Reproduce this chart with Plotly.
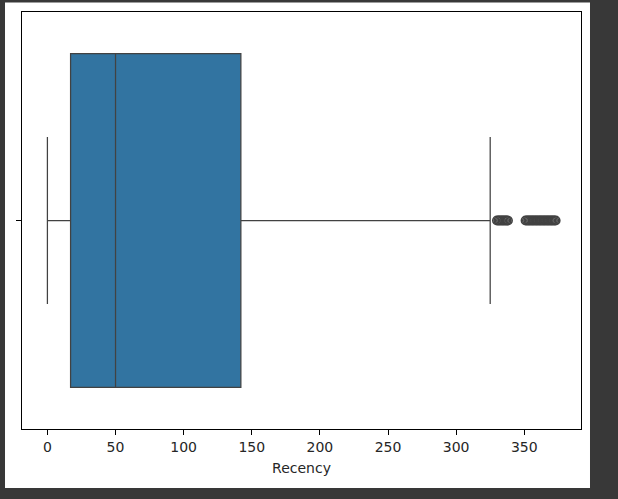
import plotly.graph_objects as go

# Box statistics for Recency
category = [0]
q1 = [17]
median = [50]
q3 = [142]
lower_fence = [0]
upper_fence = [325]

# Outliers beyond the upper whisker
outliers = [330, 331, 332, 333, 334, 335, 336, 337, 338,
            351, 352, 353, 354, 355, 356, 357, 358, 359, 360, 361,
            362, 363, 364, 365, 366, 367, 368, 369, 370, 371, 372, 373]

x_ticks = [0, 50, 100, 150, 200, 250, 300, 350]
x_label = "Recency"

line_col = "#424242"
fig = go.Figure()
fig.add_trace(go.Box(
    y=category, q1=q1, median=median, q3=q3,
    lowerfence=lower_fence, upperfence=upper_fence,
    orientation="h", width=0.8, whiskerwidth=0.5,
    fillcolor="#3274a1", line=dict(color=line_col, width=1.25),
    boxpoints=False, hoverinfo="x",
))
fig.add_trace(go.Scatter(
    x=outliers, y=[category[0]] * len(outliers), mode="markers",
    marker=dict(symbol="circle-open", size=8.5, color=line_col,
                line=dict(width=1.6, color=line_col)),
    hoverinfo="x",
))

fig.add_shape(type="rect", xref="paper", yref="paper",
              x0=-0.0304, x1=1.0161, y0=-0.1415, y1=1.0228,
              fillcolor="white", line=dict(width=0), layer="below")

fig.update_layout(
    width=618, height=499,
    margin=dict(l=22, r=37, t=12, b=70),
    paper_bgcolor="#383838", plot_bgcolor="white",
    showlegend=False,
    font=dict(family="DejaVu Sans", size=14, color="#262626"),
)
fig.update_xaxes(
    range=[-18.65, 391.65], tickvals=x_ticks, ticktext=[str(v) for v in x_ticks],
    showgrid=False, zeroline=False, showline=True, mirror=True,
    linecolor="black", linewidth=1, ticks="outside", ticklen=5,
    tickcolor="black", tickwidth=1,
    title=dict(text=x_label, font=dict(size=14, color="#262626"), standoff=9),
)
fig.update_yaxes(
    range=[0.5, -0.5], tickvals=category, ticktext=[""],
    showgrid=False, zeroline=False, showline=True, mirror=True,
    linecolor="black", linewidth=1, ticks="outside", ticklen=5,
    tickcolor="black", tickwidth=1,
)

fig.write_html(
    "out.html",
    config={"displayModeBar": False},
    post_script="document.body.style.margin='0';document.body.style.overflow='hidden';",
)
